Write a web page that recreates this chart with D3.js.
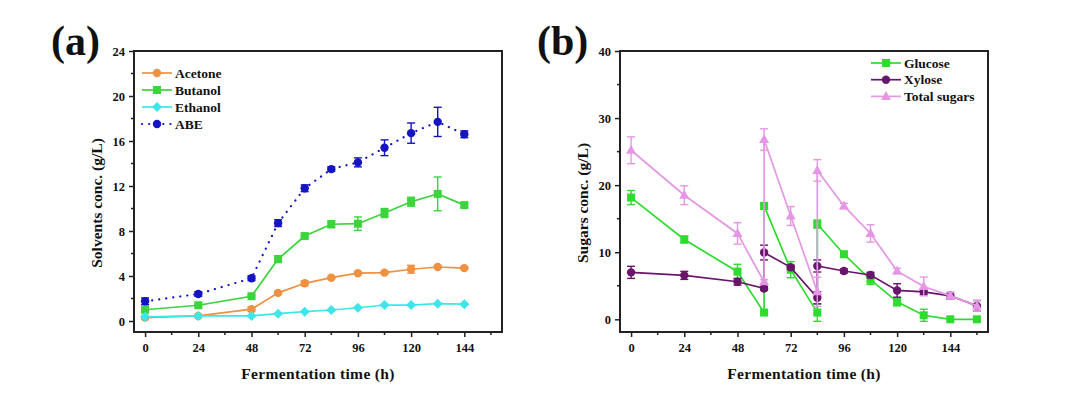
<!DOCTYPE html>
<html>
<head>
<meta charset="utf-8">
<script src="https://cdn.jsdelivr.net/npm/d3@7"></script>
<style>
  body { margin: 0; background: #fff; }
  svg text { font-family: "Liberation Serif", "Times New Roman", serif; font-weight: bold; fill: #111; }
</style>
</head>
<body>
<svg id="chart" width="1080" height="398"></svg>
<script>
// ---- panel (a) data: solvents ----
const timesA = [0, 24, 48, 60, 72, 84, 96, 108, 120, 132, 144];
const acetone = [0.3, 0.45, 1.05, 2.5, 3.35, 3.85, 4.25, 4.3, 4.6, 4.8, 4.7];
const acetoneErr = [0.1, 0.1, 0.2, 0.1, 0.2, 0.1, 0.1, 0.1, 0.35, 0.1, 0.1];
const butanol = [1.0, 1.4, 2.2, 5.5, 7.55, 8.6, 8.65, 9.6, 10.6, 11.3, 10.3];
const butanolErr = [0.1, 0.1, 0.1, 0.3, 0.1, 0.3, 0.6, 0.4, 0.4, 1.5, 0.2];
const ethanol = [0.38, 0.45, 0.45, 0.65, 0.83, 0.98, 1.18, 1.42, 1.42, 1.54, 1.5];
const ethanolErr = [0.05, 0.05, 0.05, 0.05, 0.05, 0.05, 0.05, 0.05, 0.05, 0.05, 0.05];
const abe = [1.75, 2.4, 3.8, 8.7, 11.8, 13.5, 14.1, 15.4, 16.7, 17.7, 16.6];
const abeErr = [0.3, 0.2, 0.2, 0.3, 0.3, 0.2, 0.4, 0.7, 0.9, 1.3, 0.3];

// ---- panel (b) data: sugars (two points at 60 h and 84 h = before/after feeding) ----
const timesB = [0, 24, 48, 60, 60, 72, 84, 84, 96, 108, 120, 132, 144, 156];
const glucose = [18.15, 11.9, 7.1, 1.0, 16.9, 7.4, 1.0, 14.2, 9.7, 5.9, 2.6, 0.6, 0, 0];
const glucoseErr = [1.05, 0.5, 1.1, 0.2, 0.5, 1.2, 1.3, 0.6, 0.4, 0.7, 0.6, 0.9, 0, 0];
const xylose = [7.0, 6.55, 5.6, 4.6, 9.95, 7.75, 3.2, 7.95, 7.2, 6.6, 4.3, 4.1, 3.5, 2.0];
const xyloseErr = [0.9, 0.6, 0.5, 0.3, 1.1, 0.3, 0.9, 0.9, 0.3, 0.4, 1.0, 0.4, 0.5, 0.8];
const totalSugars = [25.2, 18.5, 12.8, 5.6, 26.8, 15.4, 4.1, 22.2, 16.9, 12.8, 7.2, 4.9, 3.5, 2.0];
const totalErr = [2.0, 1.4, 1.6, 0.3, 1.6, 1.4, 2.2, 1.6, 0.4, 1.3, 0.4, 1.4, 0.5, 0.8];

const xTicks = [0, 24, 48, 72, 96, 120, 144];

const svg = d3.select("#chart");

// draws one marker shape centred at 0,0
function marker(g, shape, color) {
  if (shape === "circle") {
    g.append("circle").attr("r", 4.2).attr("fill", color);
  } else if (shape === "square") {
    g.append("rect").attr("x", -4).attr("y", -4).attr("width", 8).attr("height", 8).attr("fill", color);
  } else if (shape === "diamond") {
    g.append("path").attr("d", "M0,-5L5,0L0,5L-5,0Z").attr("fill", color);
  } else if (shape === "triangle") {
    g.append("path").attr("d", "M0,-5.5L5,3.5L-5,3.5Z").attr("fill", color);
  }
}

function drawPanel(cfg) {
  const { left, right, top, bottom } = cfg.box;
  const x = d3.scaleLinear().domain([-5, 161]).range([left, right]);
  const y = d3.scaleLinear().domain([0, cfg.yMax]).range([cfg.yZero, top]);
  const g = svg.append("g");

  // series: line, error bars, markers
  cfg.series.forEach(s => {
    const pts = cfg.times.map((t, i) => ({ t, v: s.values[i], e: s.err[i] }));
    const line = d3.line().x(d => x(d.t)).y(d => y(d.v));
    g.append("path")
      .datum(pts)
      .attr("fill", "none")
      .attr("stroke", s.color)
      .attr("stroke-width", s.dotted ? 2.2 : 1.7)
      .attr("stroke-dasharray", s.dotted ? "0.1,7" : null)
      .attr("stroke-linecap", s.dotted ? "round" : "butt")
      .attr("d", line);

    const eb = g.append("g").attr("stroke", s.color).attr("stroke-width", 1.4);
    pts.filter(d => d.e > 0).forEach(d => {
      const cx = x(d.t), y1 = y(d.v + d.e), y2 = y(d.v - d.e);
      eb.append("line").attr("x1", cx).attr("x2", cx).attr("y1", y1).attr("y2", y2);
      eb.append("line").attr("x1", cx - 4).attr("x2", cx + 4).attr("y1", y1).attr("y2", y1);
      eb.append("line").attr("x1", cx - 4).attr("x2", cx + 4).attr("y1", y2).attr("y2", y2);
    });

    pts.forEach(d => {
      marker(g.append("g").attr("transform", `translate(${x(d.t)},${y(d.v)})`), s.shape, s.color);
    });
  });

  // frame
  g.append("rect")
    .attr("x", left).attr("y", top)
    .attr("width", right - left).attr("height", bottom - top)
    .attr("fill", "none").attr("stroke", "#222").attr("stroke-width", 2);

  // x axis ticks (outward, below)
  const xAxis = d3.axisBottom(x).tickValues(xTicks).tickSize(5).tickPadding(6).tickFormat(d3.format("d"));
  const xa = g.append("g").attr("transform", `translate(0,${bottom})`).call(xAxis);
  xa.select(".domain").remove();
  xa.selectAll("line").attr("stroke", "#222").attr("stroke-width", 1.5);
  xa.selectAll("text").style("font-size", "12.5px").style("font-family", null);
  const xMinor = d3.range(12, 157, 24);
  g.append("g").selectAll("line").data(xMinor).join("line")
    .attr("x1", d => x(d)).attr("x2", d => x(d))
    .attr("y1", bottom).attr("y2", bottom + 3)
    .attr("stroke", "#222").attr("stroke-width", 1.5);

  // y axis ticks (outward, left)
  const yAxis = d3.axisLeft(y).tickValues(cfg.yTicks).tickSize(5).tickPadding(4);
  const ya = g.append("g").attr("transform", `translate(${left},0)`).call(yAxis);
  ya.select(".domain").remove();
  ya.selectAll("line").attr("stroke", "#222").attr("stroke-width", 1.5);
  ya.selectAll("text").style("font-size", "12.5px").style("font-family", null);
  g.append("g").selectAll("line").data(cfg.yMinor).join("line")
    .attr("x1", left).attr("x2", left - 3)
    .attr("y1", d => y(d)).attr("y2", d => y(d))
    .attr("stroke", "#222").attr("stroke-width", 1.5);

  // axis titles
  g.append("text")
    .attr("x", (left + right) / 2).attr("y", 379)
    .attr("text-anchor", "middle")
    .style("font-size", "15.5px").style("letter-spacing", "0.35px")
    .text("Fermentation time (h)");
  g.append("text")
    .attr("transform", `translate(${cfg.yTitleX},203) rotate(-90)`)
    .attr("text-anchor", "middle")
    .style("font-size", "15.5px")
    .text(cfg.yTitle);

  // panel letter
  g.append("text")
    .attr("x", cfg.letterX).attr("y", 55)
    .style("font-size", "42px")
    .text(cfg.letter);

  // legend
  const lg = g.append("g");
  cfg.series.forEach((s, i) => {
    const ly = cfg.legend.y + i * cfg.legend.dy;
    const lx = cfg.legend.x;
    lg.append("line")
      .attr("x1", lx).attr("x2", lx + 30).attr("y1", ly).attr("y2", ly)
      .attr("stroke", s.color).attr("stroke-width", s.dotted ? 2.2 : 1.7)
      .attr("stroke-dasharray", s.dotted ? "0.1,7" : null)
      .attr("stroke-linecap", s.dotted ? "round" : "butt");
    marker(lg.append("g").attr("transform", `translate(${lx + 15},${ly})`), s.shape, s.color);
    lg.append("text")
      .attr("x", lx + 33).attr("y", ly + 4.5)
      .style("font-size", "13.5px")
      .text(s.name);
  });
}

drawPanel({
  box: { left: 134, right: 502, top: 51, bottom: 332 },
  yMax: 24, yZero: 321,
  yTicks: [0, 4, 8, 12, 16, 20, 24],
  yMinor: [2, 6, 10, 14, 18, 22],
  yTitle: "Solvents conc. (g/L)", yTitleX: 102,
  letter: "(a)", letterX: 51,
  times: timesA,
  legend: { x: 142, y: 73, dy: 17 },
  series: [
    { name: "Acetone", values: acetone, err: acetoneErr, color: "#EE9140", shape: "circle" },
    { name: "Butanol", values: butanol, err: butanolErr, color: "#3CD43C", shape: "square" },
    { name: "Ethanol", values: ethanol, err: ethanolErr, color: "#3EE6EA", shape: "diamond" },
    { name: "ABE", values: abe, err: abeErr, color: "#1414C4", shape: "circle", dotted: true }
  ]
});

drawPanel({
  box: { left: 620, right: 988, top: 51, bottom: 332 },
  yMax: 40, yZero: 319.3,
  yTicks: [0, 10, 20, 30, 40],
  yMinor: [5, 15, 25, 35],
  yTitle: "Sugars conc. (g/L)", yTitleX: 588,
  letter: "(b)", letterX: 537,
  times: timesB,
  legend: { x: 871, y: 63, dy: 16.7 },
  series: [
    { name: "Glucose", values: glucose, err: glucoseErr, color: "#2EDB2E", shape: "square" },
    { name: "Xylose", values: xylose, err: xyloseErr, color: "#69156B", shape: "circle" },
    { name: "Total sugars", values: totalSugars, err: totalErr, color: "#E597E6", shape: "triangle" }
  ]
});
</script>
</body>
</html>
